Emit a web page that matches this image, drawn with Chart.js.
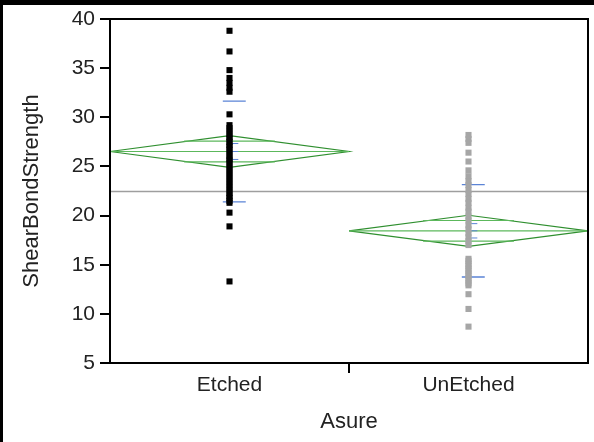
<!DOCTYPE html>
<html lang="en">
<head>
<meta charset="UTF-8">
<title>ShearBondStrength by Asure</title>
<script src="https://cdn.jsdelivr.net/npm/chart.js"></script>
<style>
  body { margin: 0; background: #fff; }
  #wrap { width: 594px; height: 442px; }
</style>
</head>
<body>
<div id="wrap"><canvas id="chart" width="594" height="442"></canvas></div>
<script>
// groups on the x axis
const groups = ['Etched', 'UnEtched'];

// ShearBondStrength readings per group
const etched = [38.8, 36.7, 34.8, 34.0, 33.5, 33.0, 32.6, 30.3, 29.2, 28.9, 28.6, 28.3, 28.0, 27.8,
  27.5, 27.2, 27.0, 26.7, 26.4, 26.1, 25.8, 25.6, 25.3, 25.0, 24.7, 24.4, 24.1, 23.8, 23.5, 23.2,
  22.9, 22.6, 22.3, 22.0, 21.8, 21.5, 21.3, 20.3, 18.9, 13.3];
const unetched = [28.2, 27.8, 27.4, 26.4, 25.5, 24.6, 24.0, 23.5, 23.1, 22.6, 22.2, 21.7, 21.3, 20.8,
  20.4, 19.9, 19.5, 19.0, 18.6, 18.2, 17.8, 17.4, 17.0, 15.6, 15.4, 15.1, 14.9, 14.6, 14.4, 14.1,
  13.9, 13.6, 13.4, 13.1, 12.9, 12.0, 10.5, 8.7];

// summary stats drawn as diamonds / lines
const groupMeans = [26.52, 18.45];
const ciHalf = [1.62, 1.58];
const overlapHalf = [1.05, 1.05];
const stdDevs = [5.12, 4.7];
const stdErrs = [0.81, 0.73];
const grandMean = 22.45;

const yTicks = [5, 10, 15, 20, 25, 30, 35, 40];
const xTicks = [0.5, 1, 1.5];

const font = "'Liberation Sans', Arial, sans-serif";
const green = '#2f8f2f';
const lightGreen = '#5cb85c';
const blue = '#5b84d6';

function diamond(i) {
  const cx = i + 0.5, m = groupMeans[i], c = ciHalf[i];
  return [{x: i, y: m}, {x: cx, y: m + c}, {x: i + 1, y: m}, {x: cx, y: m - c}, {x: i, y: m}];
}
function meanLine(i) {
  return [{x: i, y: groupMeans[i]}, {x: i + 1, y: groupMeans[i]}];
}
function overlap(i) {
  const cx = i + 0.5, m = groupMeans[i], o = overlapHalf[i];
  return [{x: cx - 0.19, y: m + o}, {x: cx + 0.19, y: m + o}, {x: cx, y: null},
          {x: cx - 0.19, y: m - o}, {x: cx + 0.19, y: m - o}];
}
function stdLines(i) {
  const cx = i + 0.5, m = groupMeans[i], s = stdDevs[i];
  return [{x: cx - 0.028, y: m + s}, {x: cx + 0.068, y: m + s}, {x: cx, y: null},
          {x: cx - 0.028, y: m - s}, {x: cx + 0.068, y: m - s}];
}
function seMarks(i) {
  const cx = i + 0.5, m = groupMeans[i], e = stdErrs[i];
  const out = [];
  [m + e, m, m - e].forEach((y, k) => {
    if (k) out.push({x: cx, y: null});
    out.push({x: cx + 0.006, y: y}, {x: cx + 0.037, y: y});
  });
  return out;
}

function lineSet(data, color, width) {
  return { data, showLine: true, borderColor: color, borderWidth: width, pointRadius: 0,
           fill: false, tension: 0, spanGaps: false };
}

const datasets = [
  { data: etched.map(v => ({x: 0.5, y: v})), pointStyle: 'rect', pointRadius: 4.3,
    backgroundColor: '#000', borderColor: '#000', borderWidth: 0 },
  { data: unetched.map(v => ({x: 1.5, y: v})), pointStyle: 'rect', pointRadius: 4.3,
    backgroundColor: '#a6a6a6', borderColor: '#a6a6a6', borderWidth: 0 }
];
groups.forEach((g, i) => {
  datasets.push(lineSet(seMarks(i), blue, 1));
  datasets.push(lineSet(stdLines(i), blue, 1.3));
  datasets.push(lineSet(overlap(i), lightGreen, 1.2));
  datasets.push(lineSet(meanLine(i), lightGreen, 1.2));
  datasets.push(lineSet(diamond(i), green, 1.2));
});
datasets.push(lineSet([{x: 0, y: grandMean}, {x: 2, y: grandMean}], '#9e9e9e', 1.5));

const framePlugin = {
  id: 'frame',
  afterDraw(chart) {
    const {ctx, chartArea: a} = chart;
    ctx.save();
    ctx.strokeStyle = '#000';
    ctx.lineWidth = 2;
    ctx.strokeRect(a.left, a.top, a.right - a.left, a.bottom - a.top);
    ctx.fillStyle = '#000';
    ctx.fillRect(0, 0, chart.width, 5);
    ctx.fillRect(0, 0, 3, chart.height);
    ctx.restore();
  }
};

new Chart(document.getElementById('chart'), {
  type: 'scatter',
  data: { datasets },
  options: {
    responsive: false,
    animation: false,
    layout: { padding: { left: 3, top: 19, right: 6, bottom: 3 } },
    plugins: { legend: { display: false }, tooltip: { enabled: false } },
    scales: {
      x: {
        type: 'linear', min: 0, max: 2,
        afterBuildTicks: s => { s.ticks = xTicks.map(v => ({value: v})); },
        afterFit: s => { s.height = 76; },
        border: { display: true, color: '#000', width: 2 },
        grid: { drawOnChartArea: false, drawTicks: true, tickLength: 10, lineWidth: 2,
                tickColor: c => (c.tick && c.tick.value === 1) ? '#000' : 'rgba(0,0,0,0)' },
        ticks: {
          autoSkip: false, maxRotation: 0, padding: 0, color: '#222',
          font: { family: font, size: 21 },
          callback: v => (v === 1 ? '' : groups[Math.floor(v)])
        },
        title: { display: true, text: 'Asure', color: '#222', font: { family: font, size: 22 },
                 padding: { top: 0, bottom: 4 } }
      },
      y: {
        min: 5, max: 40,
        afterBuildTicks: s => { s.ticks = yTicks.map(v => ({value: v})); },
        afterFit: s => { s.width = 107; },
        border: { display: true, color: '#000', width: 2 },
        grid: { drawOnChartArea: false, drawTicks: true, tickLength: 10, lineWidth: 2, tickColor: '#000' },
        ticks: { padding: 5, color: '#222', font: { family: font, size: 21 } },
        title: { display: true, text: 'ShearBondStrength', color: '#222', font: { family: font, size: 22 },
                 padding: { top: 16, bottom: 0 } }
      }
    }
  },
  plugins: [framePlugin]
});
</script>
</body>
</html>
